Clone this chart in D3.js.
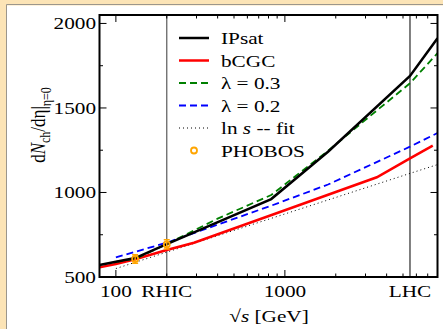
<!DOCTYPE html>
<html>
<head>
<meta charset="utf-8">
<script src="https://cdn.jsdelivr.net/npm/d3@7"></script>
<style>
  body { margin: 0; background: #fff; }
  svg { display: block; }
  text { font-family: "Liberation Serif", "Times New Roman", serif; fill: #000; }
</style>
</head>
<body>
<svg id="chart" width="443" height="329"></svg>
<script>
// values (sqrt s in GeV, dN/deta)
const ipsatS = [80, 100, 130, 200, 830, 1800, 5500, 8000]
const ipsatN = [571, 590, 612, 695, 961, 1241, 1689, 1912]

const bcgcS = [80, 100, 130, 200, 290, 1000, 3500, 5500, 7500]
const bcgcN = [557, 577, 605, 660, 703, 895, 1090, 1202, 1277]

const lam3S = [100, 130, 200, 400, 830, 1800, 3000, 5500, 8000]
const lam3N = [590, 607, 695, 845, 985, 1247, 1430, 1646, 1824]

const lam2S = [100, 200, 830, 1800, 5500, 8000]
const lam2N = [616, 703, 922, 1047, 1271, 1352]

const fitS = [100, 200, 1000, 5500, 8000]
const fitN = [550, 647, 873, 1113, 1165]

const phobosS = [130, 200]
const phobosN = [607, 693]
const phobosErr = [25, 27]

const xLabels = [[100, '100'], [200, 'RHIC'], [1000, '1000'], [5500, 'LHC']]
const yMajor = [500, 1000, 1500, 2000]
const yMinor = [750, 1250, 1750]
const rhic = 200, lhc = 5500

const W = 443, H = 329
const pLeft = 99.5, pRight = 437.5, pTop = 15, pBottom = 277
const SX = 1.25 // the original figure is stretched sideways

const svg = d3.select('#chart')

// page frame
svg.append('rect').attr('width', W).attr('height', H).attr('fill', '#fce4b6')
svg.append('rect').attr('x', 7).attr('y', 5.5).attr('width', W).attr('height', H).attr('fill', '#fff')
svg.append('path').attr('d', `M6.5,${H} V4.5 H${W}`).attr('fill', 'none').attr('stroke', '#9b968c').attr('stroke-width', 1)

let x = d3.scaleLog().domain([80, 8000]).range([pLeft, pRight])
let y = d3.scaleLinear().domain([500, 2050]).range([pBottom, pTop])

svg.append('clipPath').attr('id', 'clip')
  .append('rect').attr('x', pLeft).attr('y', pTop).attr('width', pRight - pLeft).attr('height', pBottom - pTop)

const plot = svg.append('g').attr('clip-path', 'url(#clip)')

// vertical markers
plot.append('line').attr('x1', x(rhic)).attr('x2', x(rhic)).attr('y1', pTop).attr('y2', pBottom)
  .attr('stroke', '#666').attr('stroke-width', 1.3)
plot.append('line').attr('x1', x(lhc)).attr('x2', x(lhc)).attr('y1', pTop).attr('y2', pBottom)
  .attr('stroke', '#000').attr('stroke-width', 1)

let line = d3.line().x(d => x(d[0])).y(d => y(d[1]))
const zip = (a, b) => a.map((v, i) => [v, b[i]])

const series = [
  { s: fitS, n: fitN, color: '#000', width: 1, dash: '1,3' },
  { s: lam2S, n: lam2N, color: '#0000ff', width: 1.8, dash: '7,4' },
  { s: bcgcS, n: bcgcN, color: '#ff0000', width: 2.5, dash: null },
  { s: lam3S, n: lam3N, color: '#008000', width: 1.8, dash: '7,4' },
  { s: ipsatS, n: ipsatN, color: '#000', width: 2.5, dash: null },
]
series.forEach(d => {
  plot.append('path')
    .attr('d', line(zip(d.s, d.n)))
    .attr('fill', 'none')
    .attr('stroke', d.color)
    .attr('stroke-width', d.width)
    .attr('stroke-dasharray', d.dash)
})

// PHOBOS points
phobosS.forEach((s, i) => {
  let cx = x(s), lo = y(phobosN[i] - phobosErr[i]), hi = y(phobosN[i] + phobosErr[i])
  plot.append('path')
    .attr('d', `M${cx},${lo}V${hi}M${cx - 3},${lo}H${cx + 3}M${cx - 3},${hi}H${cx + 3}`)
    .attr('stroke', '#ffa500').attr('stroke-width', 1.5).attr('fill', 'none')
  plot.append('circle').attr('cx', cx).attr('cy', y(phobosN[i])).attr('r', 3)
    .attr('fill', 'none').attr('stroke', '#ffa500').attr('stroke-width', 1.8)
})

// frame and ticks
const axes = svg.append('g').attr('stroke', '#000').attr('fill', 'none')
let xTicks = x.ticks().filter(t => t >= 100)
xTicks.forEach(t => {
  let major = t === 100 || t === 1000
  let len = major ? 7 : 3.5
  axes.append('path').attr('d', `M${x(t)},${pBottom}v${-len}M${x(t)},${pTop}v${len}`).attr('stroke-width', 1)
})
yMajor.forEach(t => {
  axes.append('path').attr('d', `M${pLeft},${y(t)}h7M${pRight},${y(t)}h-7`).attr('stroke-width', 1)
})
yMinor.forEach(t => {
  axes.append('path').attr('d', `M${pLeft},${y(t)}h3.5M${pRight},${y(t)}h-3.5`).attr('stroke-width', 1)
})
axes.append('rect').attr('x', pLeft).attr('y', pTop).attr('width', pRight - pLeft).attr('height', pBottom - pTop)
  .attr('stroke-width', 2)

function stretched(px, py, str, anchor, size) {
  return svg.append('text')
    .attr('transform', `translate(${px},${py}) scale(${SX},1)`)
    .attr('text-anchor', anchor)
    .attr('font-size', size || 17)
    .text(str)
}

yMajor.forEach(t => stretched(96, y(t) + 6, String(t), 'end'))
xLabels.forEach(([v, str]) => stretched(x(v), 297, str, 'middle'))

// x title
let xt = stretched(269, 322, '', 'middle')
xt.append('tspan').text('\u221A')
xt.append('tspan').attr('font-style', 'italic').text('s')
xt.append('tspan').text(' [GeV]')

// y title
let yt = svg.append('text')
  .attr('transform', `translate(45,125) rotate(-90) scale(1,${SX})`)
  .attr('text-anchor', 'middle')
  .attr('font-size', 17)
yt.append('tspan').text('d')
yt.append('tspan').attr('font-style', 'italic').text('N')
yt.append('tspan').attr('font-size', 12).attr('dy', 4).text('ch')
yt.append('tspan').attr('dy', -4).text('/d\u03B7|')
yt.append('tspan').attr('font-size', 12).attr('dy', 5).text('\u03B7=0')

// legend
const legendNames = ['IPsat', 'bCGC', '\u03BB =  0.3', '\u03BB =  0.2', 'ln s -- fit', 'PHOBOS']
const legendStyle = [series[4], series[2], series[3], series[1], series[0], null]
legendNames.forEach((name, i) => {
  let by = 44 + i * 22.5
  let st = legendStyle[i]
  if (st) {
    svg.append('line').attr('x1', 179).attr('x2', 209).attr('y1', by - 6).attr('y2', by - 6)
      .attr('stroke', st.color).attr('stroke-width', st.width).attr('stroke-dasharray', st.dash)
  } else {
    svg.append('circle').attr('cx', 194).attr('cy', by - 6).attr('r', 3)
      .attr('fill', 'none').attr('stroke', '#ffa500').attr('stroke-width', 1.8)
  }
  let t = stretched(221, by, '', 'start')
  if (name.startsWith('ln s')) {
    t.append('tspan').text('ln ')
    t.append('tspan').attr('font-style', 'italic').text('s')
    t.append('tspan').text(' -- fit')
  } else {
    t.text(name)
  }
})
</script>
</body>
</html>
